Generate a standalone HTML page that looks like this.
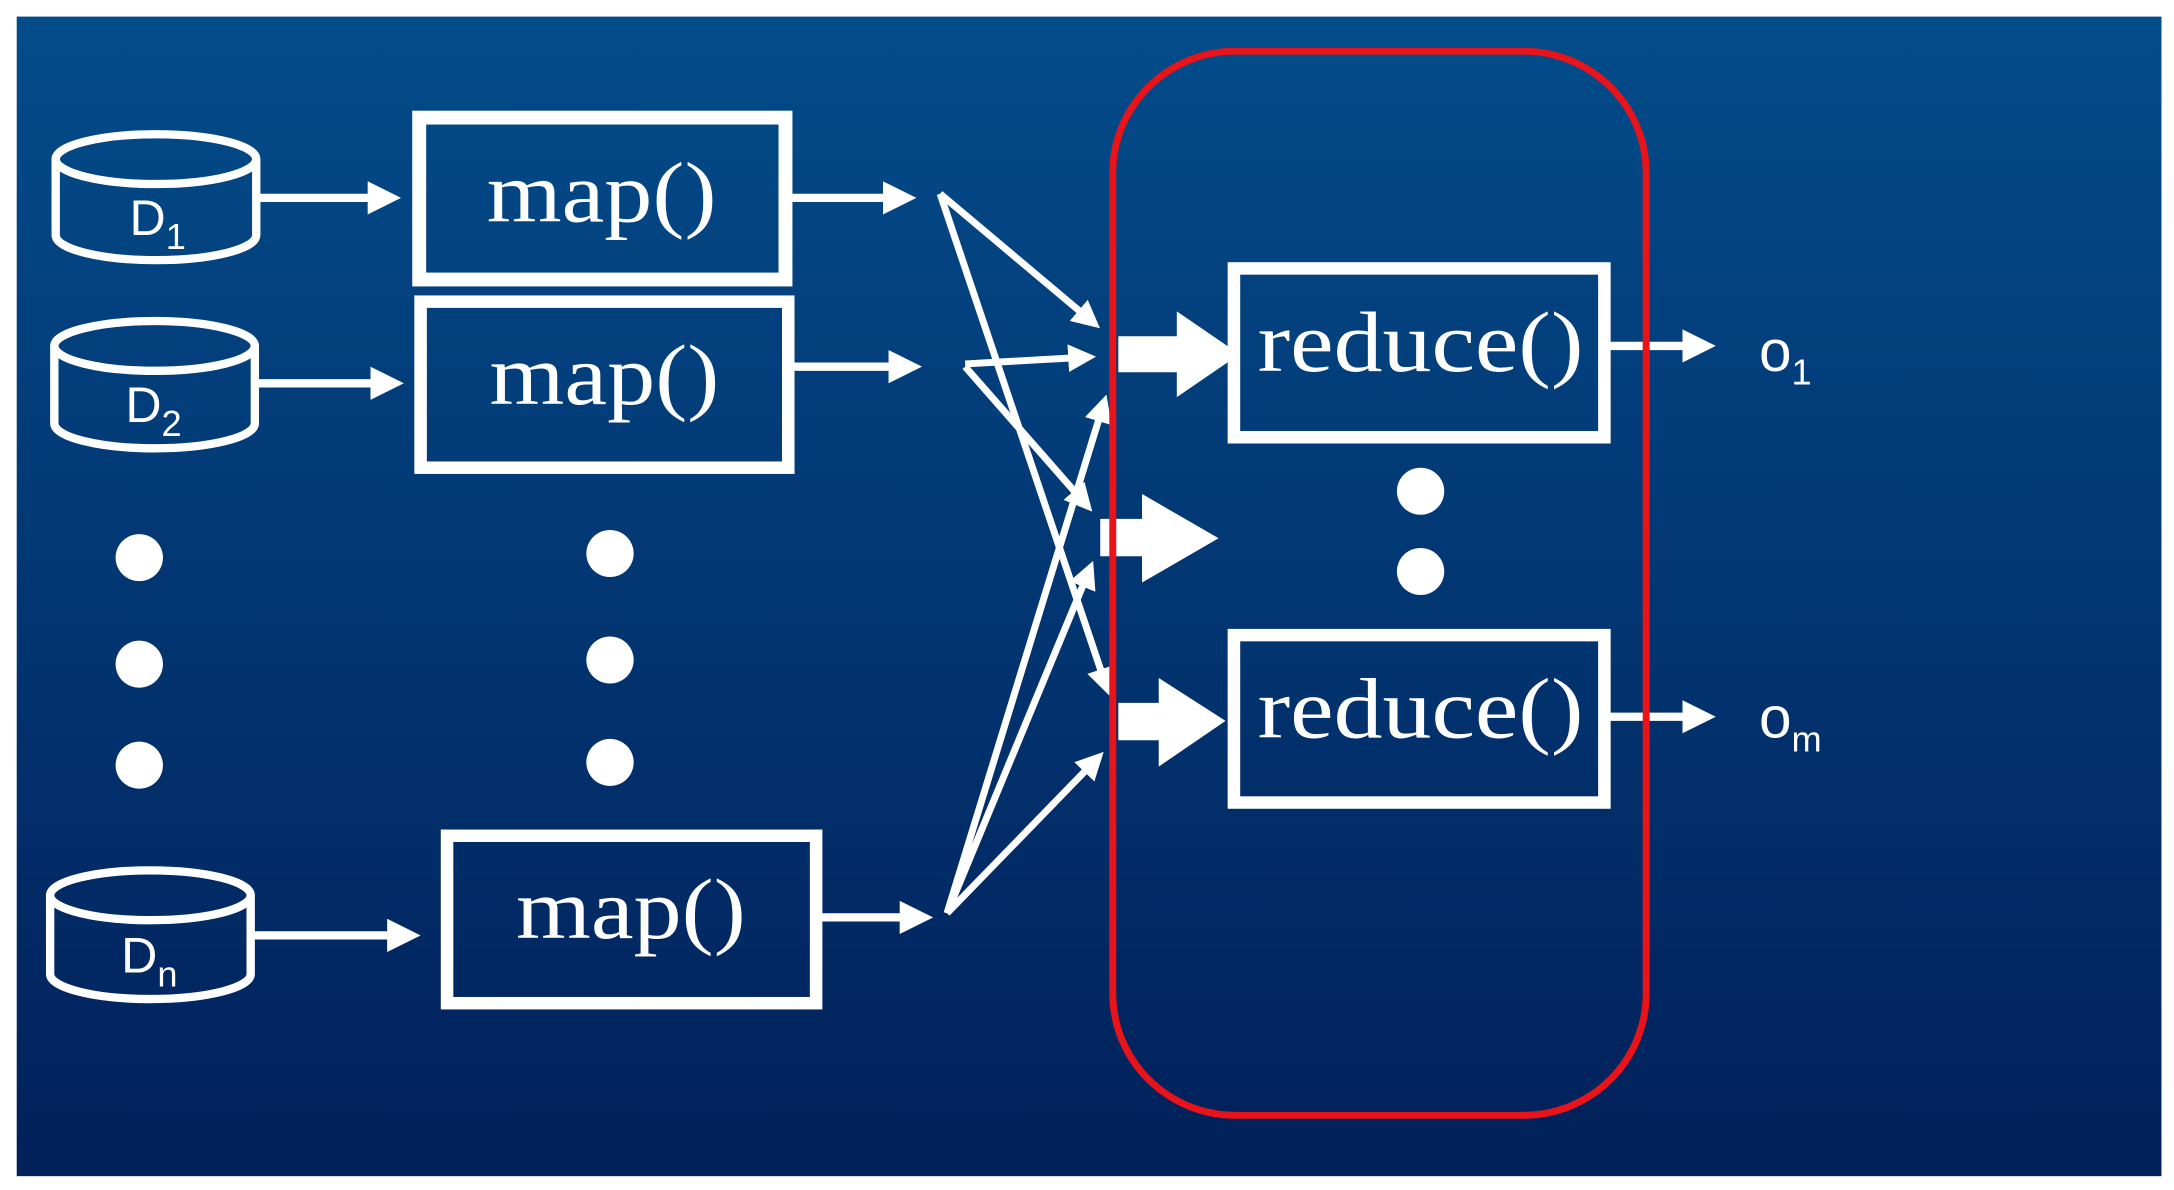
<!DOCTYPE html>
<html><head><meta charset="utf-8"><style>
html,body{margin:0;padding:0;background:#fff;}
svg{display:block;}
</style></head><body>
<svg width="2174" height="1190" viewBox="0 0 1561 860" preserveAspectRatio="none" xmlns="http://www.w3.org/2000/svg">
<defs>
<linearGradient id="bg" x1="0" y1="0" x2="0" y2="1">
<stop offset="0" stop-color="#034c8a"/>
<stop offset="1" stop-color="#02205a"/>
</linearGradient>
<marker id="ah" markerWidth="4" markerHeight="4" refX="3" refY="2" orient="auto" markerUnits="strokeWidth">
<path d="M0,0 L4,2 L0,4 Z" fill="#fff"/>
</marker>
</defs>
<rect x="12" y="12" width="1540" height="838" fill="url(#bg)"/>

<g fill="none" stroke="#fff" stroke-width="6">
<path d="M40,115 L40,170 A72,18 0 0 0 184,170 L184,115"/>
<ellipse cx="112" cy="115" rx="72" ry="18"/>
<path d="M39,250 L39,306 A72,18 0 0 0 183,306 L183,250"/>
<ellipse cx="111" cy="250" rx="72" ry="18"/>
<path d="M36,647 L36,704 A72,18 0 0 0 180,704 L180,647"/>
<ellipse cx="108" cy="647" rx="72" ry="18"/>
<rect x="301" y="85" width="263" height="117" stroke-width="10"/>
<rect x="302" y="218" width="264" height="120" stroke-width="9"/>
<rect x="321" y="604" width="265" height="121" stroke-width="9"/>
<rect x="886" y="194" width="266" height="122" stroke-width="9"/>
<rect x="886" y="459" width="266" height="121" stroke-width="9"/>
</g>

<g fill="#fff">
<circle cx="100" cy="403" r="17"/><circle cx="100" cy="480" r="17"/><circle cx="100" cy="553" r="17"/>
<circle cx="438" cy="400" r="17"/><circle cx="438" cy="477" r="17"/><circle cx="438" cy="551" r="17"/>
<circle cx="1020" cy="355" r="17"/><circle cx="1020" cy="413" r="17"/>
</g>

<g stroke="#fff" stroke-width="6" fill="none" marker-end="url(#ah)">
<line x1="186" y1="143" x2="282" y2="143"/>
<line x1="184" y1="277" x2="284" y2="277"/>
<line x1="182" y1="676" x2="296" y2="676"/>
<line x1="568" y1="143" x2="652" y2="143"/>
<line x1="570" y1="265" x2="656" y2="265"/>
<line x1="589" y1="663" x2="664" y2="663"/>
<line x1="1156" y1="250" x2="1226" y2="250"/>
<line x1="1156" y1="518" x2="1226" y2="518"/>
</g>
<g stroke="#fff" stroke-width="5" fill="none" marker-end="url(#ah)">
<line x1="675" y1="140" x2="786" y2="234"/>
<line x1="675" y1="140" x2="795" y2="498"/>
<line x1="693" y1="263" x2="782" y2="258"/>
<line x1="693" y1="265" x2="781" y2="366"/>
<line x1="680" y1="660" x2="793" y2="290"/>
<line x1="680" y1="660" x2="783" y2="410"/>
<line x1="680" y1="660" x2="789" y2="547"/>
</g>

<g fill="#fff">
<path d="M803,243 L845,243 L845,225 L890,256 L845,287 L845,269 L803,269 Z"/>
<path d="M790,375 L820,375 L820,357 L875,389 L820,421 L820,402 L790,402 Z"/>
<path d="M803,508 L832,508 L832,490 L880,521 L832,554 L832,535 L803,535 Z"/>
</g>

<rect x="799" y="37" width="383" height="769" rx="88" ry="88" fill="none" stroke="#e8141a" stroke-width="5"/>

<g fill="#fff" font-family="'Liberation Serif', serif">
<text x="432" y="160" font-size="62" text-anchor="middle" textLength="165" lengthAdjust="spacingAndGlyphs">map()</text>
<text x="434" y="292" font-size="62" text-anchor="middle" textLength="165" lengthAdjust="spacingAndGlyphs">map()</text>
<text x="453" y="678" font-size="62" text-anchor="middle" textLength="165" lengthAdjust="spacingAndGlyphs">map()</text>
<text x="903" y="268" font-size="62" textLength="234" lengthAdjust="spacingAndGlyphs">reduce()</text>
<text x="903" y="533" font-size="62" textLength="234" lengthAdjust="spacingAndGlyphs">reduce()</text>
</g>
<g fill="#fff" font-family="'Liberation Sans', sans-serif">
<text x="93" y="170" font-size="36">D<tspan font-size="26" dy="10">1</tspan></text>
<text x="90" y="305" font-size="36">D<tspan font-size="26" dy="10">2</tspan></text>
<text x="87" y="703" font-size="36">D<tspan font-size="26" dy="10">n</tspan></text>
<text x="1263" y="268" font-size="42">o<tspan font-size="26" dy="10">1</tspan></text>
<text x="1263" y="533" font-size="42">o<tspan font-size="26" dy="10">m</tspan></text>
</g>
</svg>
</body></html>
